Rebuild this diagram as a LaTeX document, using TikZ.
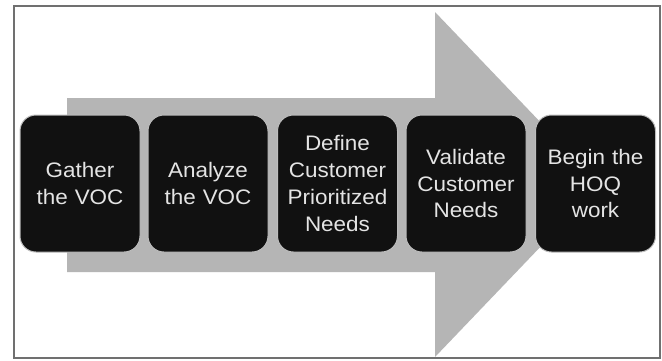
\documentclass[tikz,border=0pt]{standalone}
\usepackage{fontspec}
\setmainfont{Liberation Sans}[FakeStretch=1.07]
\definecolor{boxblack}{HTML}{111111}
\definecolor{boxedge}{HTML}{BDBDBD}
\definecolor{boxtext}{HTML}{E4E4E4}
\definecolor{arrowgray}{HTML}{B5B5B5}
\definecolor{framegray}{HTML}{707070}
\begin{document}
\begin{tikzpicture}[x=1pt,y=-1pt,
  stepbox/.style={rectangle, rounded corners=16pt, fill=boxblack, draw=boxedge,
    line width=1pt, minimum width=120pt, minimum height=137pt, text width=118pt,
    align=center, text=boxtext, font=\fontsize{21}{26.7}\selectfont, inner sep=0pt},
  frame/.style={draw=framegray, line width=2pt},
]
\useasboundingbox (0,0) rectangle (662,360);
\fill[white] (0,0) rectangle (662,360);
% outer frame
\draw[frame] (14,6) rectangle (660,358);
% big process arrow behind the steps
\fill[arrowgray] (67,98) -- (435,98) -- (435,12) -- (600,184.5)
  -- (435,357) -- (435,272) -- (67,272) -- cycle;
% process steps
\node[stepbox] (g1) at (80,183.5) {Gather\\the VOC};
\node[stepbox] (g2) at (208,183.5) {Analyze\\the VOC};
\node[stepbox] (g3) at (337.5,183.5) {Define\\Customer\\Prioritized\\Needs};
\node[stepbox] (g4) at (466,183.5) {Validate\\Customer\\Needs};
\node[stepbox] (g5) at (595.5,183.5) {Begin the\\HOQ\\work};
\end{tikzpicture}
\end{document}
